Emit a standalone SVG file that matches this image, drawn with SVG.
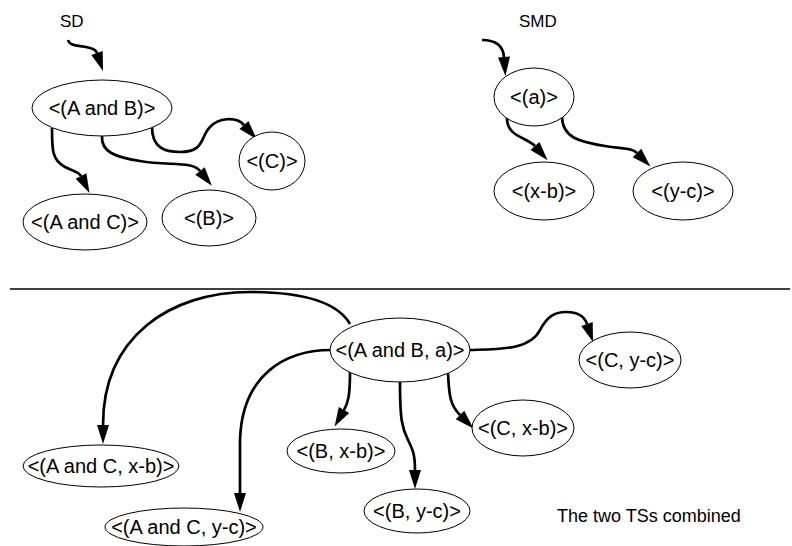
<svg xmlns="http://www.w3.org/2000/svg" width="792" height="546" viewBox="0 0 792 546">
  <style>
    .node ellipse { fill: #ffffff; stroke: #000000; stroke-width: 1; }
    .node text { font-family: "Liberation Sans", Arial, sans-serif; font-size: 20px; fill: #000000; text-anchor: middle; }
    .label { font-family: "Liberation Sans", Arial, sans-serif; fill: #000000; }
    .edge { fill: none; stroke: #000000; stroke-width: 2.7; marker-end: url(#arrow); }
  </style>
  <defs>
    <marker id="arrow" markerUnits="userSpaceOnUse" markerWidth="20" markerHeight="14" refX="0" refY="6" orient="auto" overflow="visible">
      <path d="M0,0 L19,6 L0,12 z" fill="#000000"/>
    </marker>
  </defs>

  <rect width="792" height="546" fill="#ffffff"/>

  <!-- titles -->
  <text class="label" x="60" y="27" font-size="17">SD</text>
  <text class="label" x="519" y="27" font-size="17">SMD</text>
  <text class="label" x="557" y="522" font-size="18">The two TSs combined</text>

  <!-- separator -->
  <line x1="10" y1="289" x2="790" y2="289" stroke="#000000" stroke-width="1.5"/>

  <!-- connectors -->
  <g id="connectors">
    <!-- SD -->
    <path class="edge" d="M68,40 C70,47 80,45 90,48 C94,49 96,50 97,53"/>
    <path class="edge" d="M52,128 C52,150 52,160 65,167 C75,172 79,172 81,176"/>
    <path class="edge" d="M102,136 C101,152 115,157 140,161 C170,166 192,161 200,171"/>
    <path class="edge" d="M152,127 C152,148 165,152 180,152 C205,152 200,137 210,127 C218,118 236,116 244,125"/>
    <!-- SMD -->
    <path class="edge" d="M482,40 C494,40 503,44 504,57"/>
    <path class="edge" d="M507,117 C506,137 527,137 535,146"/>
    <path class="edge" d="M562,116 C562,138 580,142 605,146 C625,149 632,148 637,153"/>
    <!-- combined -->
    <path class="edge" d="M350,324 C335,298 290,292 250,292 C170,292 103,337 103,425"/>
    <path class="edge" d="M331,350 C285,350 242,375 240,440 L240,493"/>
    <path class="edge" d="M350,372 C350,396 348,403 344,410"/>
    <path class="edge" d="M400,382 C400,420 402,428 408,440 C413,450 415,455 415,470"/>
    <path class="edge" d="M448,373 C449,395 450,405 460,415"/>
    <path class="edge" d="M470,350 C500,349 530,350 540,330 C548,315 556,312 566,312 C576,312 584,315 587,324"/>
  </g>

  <!-- SD states -->
  <g id="sd-ab" class="node"><ellipse cx="102" cy="108" rx="70" ry="28"/><text x="102" y="115">&lt;(A and B)&gt;</text></g>
  <g id="sd-c" class="node"><ellipse cx="272" cy="161" rx="33" ry="29"/><text x="272" y="168">&lt;(C)&gt;</text></g>
  <g id="sd-ac" class="node"><ellipse cx="85" cy="222" rx="62" ry="28"/><text x="85" y="229">&lt;(A and C)&gt;</text></g>
  <g id="sd-b" class="node"><ellipse cx="209" cy="218" rx="47" ry="28"/><text x="209" y="225">&lt;(B)&gt;</text></g>

  <!-- SMD states -->
  <g id="smd-a" class="node"><ellipse cx="534" cy="97" rx="40" ry="29"/><text x="534" y="104">&lt;(a)&gt;</text></g>
  <g id="smd-xb" class="node"><ellipse cx="544" cy="191" rx="50" ry="29"/><text x="544" y="198">&lt;(x-b)&gt;</text></g>
  <g id="smd-yc" class="node"><ellipse cx="683" cy="191" rx="50" ry="29"/><text x="683" y="198">&lt;(y-c)&gt;</text></g>

  <!-- combined states -->
  <g id="ab-a" class="node"><ellipse cx="400" cy="350" rx="70" ry="32"/><text x="400" y="357">&lt;(A and B, a)&gt;</text></g>
  <g id="c-yc" class="node"><ellipse cx="630" cy="360" rx="51" ry="28"/><text x="630" y="367">&lt;(C, y-c)&gt;</text></g>
  <g id="c-xb" class="node"><ellipse cx="523" cy="428" rx="51" ry="28"/><text x="523" y="435">&lt;(C, x-b)&gt;</text></g>
  <g id="b-xb" class="node"><ellipse cx="341" cy="451" rx="54" ry="22"/><text x="341" y="458">&lt;(B, x-b)&gt;</text></g>
  <g id="b-yc" class="node"><ellipse cx="417" cy="511" rx="53" ry="22"/><text x="417" y="518">&lt;(B, y-c)&gt;</text></g>
  <g id="ac-xb" class="node"><ellipse cx="101" cy="466" rx="78" ry="21"/><text x="101" y="473">&lt;(A and C, x-b)&gt;</text></g>
  <g id="ac-yc" class="node"><ellipse cx="184" cy="527" rx="79" ry="19"/><text x="184" y="534">&lt;(A and C, y-c)&gt;</text></g>
</svg>
